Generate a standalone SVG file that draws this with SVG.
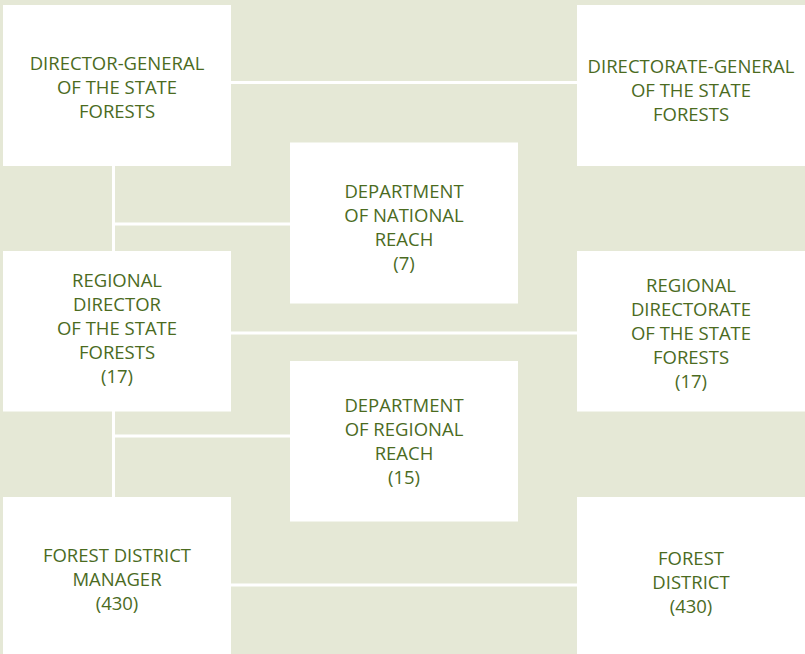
<svg xmlns="http://www.w3.org/2000/svg" width="805" height="654" viewBox="0 0 805 654">
  <style>
    .bg { fill: #e5e8d6; }
    .box { fill: #ffffff; }
    .conn { stroke: #ffffff; stroke-width: 3; fill: none; }
    .lbl { font-family: "Open Sans", "Noto Sans", "Liberation Sans", sans-serif; font-size: 18.5px; fill: #4b6b1f; text-anchor: middle; }
  </style>
  <rect class="bg" x="0" y="0" width="805" height="654"/>
  <g id="connectors">
    <line class="conn" x1="231" y1="82.5" x2="577" y2="82.5"/>
    <line class="conn" x1="113.5" y1="165" x2="113.5" y2="252"/>
    <line class="conn" x1="115" y1="224" x2="290" y2="224"/>
    <line class="conn" x1="231" y1="333" x2="577" y2="333"/>
    <line class="conn" x1="113.5" y1="410" x2="113.5" y2="498"/>
    <line class="conn" x1="115" y1="436" x2="290" y2="436"/>
    <line class="conn" x1="231" y1="585" x2="577" y2="585"/>
  </g>
  <g id="director-general">
    <rect class="box" x="3" y="5" width="228" height="161"/>
    <text class="lbl"><tspan x="117" y="70">DIRECTOR-GENERAL</tspan><tspan x="117" y="94">OF THE STATE</tspan><tspan x="117" y="118">FORESTS</tspan></text>
  </g>
  <g id="directorate-general">
    <rect class="box" x="577" y="5" width="228" height="161"/>
    <text class="lbl"><tspan x="691" y="73">DIRECTORATE-GENERAL</tspan><tspan x="691" y="97">OF THE STATE</tspan><tspan x="691" y="121">FORESTS</tspan></text>
  </g>
  <g id="dept-national">
    <rect class="box" x="290" y="142.5" width="228" height="161"/>
    <text class="lbl"><tspan x="404" y="198">DEPARTMENT</tspan><tspan x="404" y="222">OF NATIONAL</tspan><tspan x="404" y="246">REACH</tspan><tspan x="404" y="270">(7)</tspan></text>
  </g>
  <g id="regional-director">
    <rect class="box" x="3" y="251" width="228" height="160.5"/>
    <text class="lbl"><tspan x="117" y="287">REGIONAL</tspan><tspan x="117" y="311">DIRECTOR</tspan><tspan x="117" y="335">OF THE STATE</tspan><tspan x="117" y="359">FORESTS</tspan><tspan x="117" y="383">(17)</tspan></text>
  </g>
  <g id="regional-directorate">
    <rect class="box" x="577" y="251" width="228" height="160.5"/>
    <text class="lbl"><tspan x="691" y="292">REGIONAL</tspan><tspan x="691" y="316">DIRECTORATE</tspan><tspan x="691" y="340">OF THE STATE</tspan><tspan x="691" y="364">FORESTS</tspan><tspan x="691" y="388">(17)</tspan></text>
  </g>
  <g id="dept-regional">
    <rect class="box" x="290" y="361" width="228" height="160.5"/>
    <text class="lbl"><tspan x="404" y="412">DEPARTMENT</tspan><tspan x="404" y="436">OF REGIONAL</tspan><tspan x="404" y="460">REACH</tspan><tspan x="404" y="484">(15)</tspan></text>
  </g>
  <g id="district-manager">
    <rect class="box" x="3" y="497" width="228" height="157"/>
    <text class="lbl"><tspan x="117" y="562">FOREST DISTRICT</tspan><tspan x="117" y="586">MANAGER</tspan><tspan x="117" y="610">(430)</tspan></text>
  </g>
  <g id="forest-district">
    <rect class="box" x="577" y="497" width="228" height="157"/>
    <text class="lbl"><tspan x="691" y="565">FOREST</tspan><tspan x="691" y="589">DISTRICT</tspan><tspan x="691" y="613">(430)</tspan></text>
  </g>
</svg>
